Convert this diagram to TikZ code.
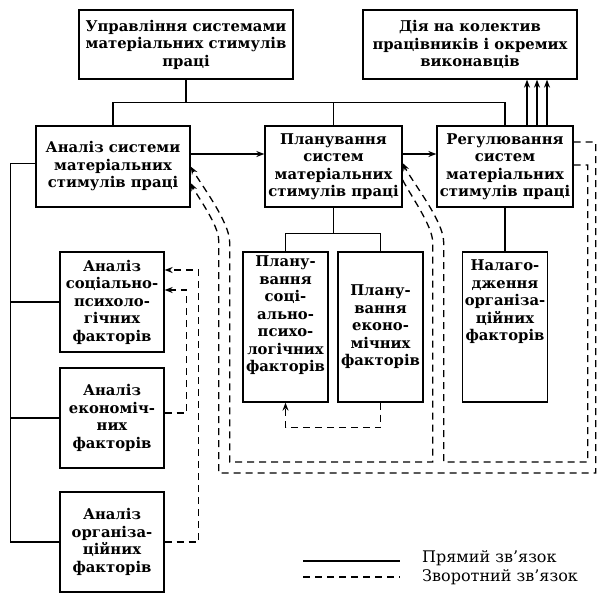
\documentclass[tikz,border=0pt]{standalone}
\usepackage{fontspec}
\setmainfont{DejaVu Serif}
\usepackage{tikz}
\usetikzlibrary{shapes.geometric, arrows, arrows.meta}
\tikzstyle{process} = [rectangle, draw=black, line width=1.3pt, text centered, align=center, inner sep=2pt, font=\bfseries\fontsize{14.8}{17.5}\selectfont]
\tikzstyle{wide} = [process, minimum width=214pt, minimum height=69pt]
\tikzstyle{stage} = [process, minimum height=81pt]
\tikzstyle{factor} = [process, minimum width=104pt, minimum height=100pt]
\tikzstyle{column} = [process, minimum width=85pt, minimum height=150pt]
\tikzstyle{link} = [line width=1.3pt]
\tikzstyle{arrow} = [link,-{Stealth[length=8pt,width=6pt]}]
\tikzstyle{feedback} = [line width=1.3pt, dash pattern=on 7pt off 5pt]
\tikzstyle{fbarrow} = [feedback,-{Stealth[length=8pt,width=6pt]}]
\tikzstyle{legend} = [inner sep=0pt, font=\fontsize{16}{18}\selectfont]
\newcommand{\toptext}[1]{\parbox[c][142pt][t]{81pt}{\centering #1}}

\begin{document}
\begin{tikzpicture}[x=1pt, y=1pt, node distance=116pt]
        \useasboundingbox (0,0) rectangle (599,-608);
        \node (upr) [wide] at (186,-44.5) {Управління системами\\матеріальних стимулів\\праці};
        \node (dia) [wide, right of=upr, xshift=168pt] {Дія на колектив\\працівників і окремих\\виконавців};
        \node (anal) [stage, minimum width=154pt, below of=upr, xshift=-73pt, yshift=-6pt] {Аналіз системи\\матеріальних\\стимулів праці};
        \node (plan) [stage, minimum width=137pt, right of=anal, xshift=104.5pt] {Планування\\систем\\матеріальних\\стимулів праці};
        \node (reg) [stage, minimum width=136pt, right of=plan, xshift=55.5pt] {Регулювання\\систем\\матеріальних\\стимулів праці};
        \node (soc) [factor, below of=anal, xshift=-1pt, yshift=-19.5pt] {Аналіз\\соціально-\\психоло-\\гічних\\факторів};
        \node (econ) [factor, below of=soc] {Аналіз\\економіч-\\них\\факторів};
        \node (org) [factor, below of=econ, yshift=-8pt] {Аналіз\\організа-\\ційних\\факторів};
        \node (psoc) [column, below of=plan, xshift=-48pt, yshift=-44.5pt] {\toptext{Плану-\\вання\\соці-\\ально-\\психо-\\логічних\\факторів}};
        \node (pecon) [column, right of=psoc, xshift=-21pt] {Плану-\\вання\\еконо-\\мічних\\факторів};
        \node (nalag) [column, below of=reg, yshift=-44.5pt] {\toptext{\vspace*{4pt}Налаго-\\дження\\організа-\\ційних\\факторів}};

        % direct links
        \draw [link] (upr.south) -- ++(0,-23) coordinate (hub);
        \draw [link] (anal.north) |- (hub) -| (reg.north);
        \draw [link] (plan.north) -- (plan.north |- hub);
        \foreach \dx in {22,32,42}
            \draw [arrow] ([xshift=\dx pt]reg.north) -- ([xshift=\dx pt]reg.north |- dia.south);
        \draw [arrow] ([yshift=12.5pt]anal.east) -- ([yshift=12.5pt]anal.east -| plan.west);
        \draw [arrow] ([yshift=12.5pt]plan.east) -- ([yshift=12.5pt]plan.east -| reg.west);
        \draw [link] ([yshift=3pt]anal.west) -- ++(-25,0) coordinate (spine) |- (org.west);
        \draw [link] (soc.west) -- (soc.west -| spine);
        \draw [link] (econ.west) -- (econ.west -| spine);
        \draw [link] (plan.south) -- ++(0,-26) coordinate (psplit);
        \draw [link] (psoc.north) |- (psplit) -| (pecon.north);
        \draw [link] (reg.south) -- (nalag.north);

        % feedback links
        \draw [fbarrow] (pecon.south) -- ++(0,-25) -| (psoc.south);
        \draw [fbarrow] ([yshift=5pt]econ.east) -- ++(22,0) |- ([yshift=12pt]soc.east);
        \draw [fbarrow] (org.east) -- ++(34,0) |- ([yshift=32pt]soc.east);
        \draw [fbarrow] ([yshift=24.5pt]reg.east) -- ++(22,0) -- ++(0,-331) -- ++(-377,0) -- ++(0,233) to[out=90,in=-63,looseness=0.6] ([yshift=-16.5pt]anal.east);
        \draw [fbarrow] ([yshift=-13.5pt]plan.east) to[out=-63,in=90,looseness=0.6] ++(30,-62) -- ++(0,-220) -- ++(-203,0) -- ++(0,220) to[out=90,in=-60,looseness=0.6] (anal.east);
        \draw [fbarrow] ([yshift=1.5pt]reg.east) -- ++(14,0) -- ++(0,-297) -- ++(-144,0) -- ++(0,220) to[out=90,in=-63,looseness=0.6] ([yshift=3.5pt]plan.east);

        % legend
        \node (direct) [legend, anchor=west] at (422,-558) {Прямий зв’язок};
        \node (reverse) [legend, anchor=west] at (422,-577) {Зворотний зв’язок};
        \draw [link] ([xshift=-119pt, yshift=-3pt]direct.west) -- ([xshift=-22pt, yshift=-3pt]direct.west);
        \draw [feedback] ([xshift=-119pt]reverse.west) -- ([xshift=-22pt]reverse.west);
    \end{tikzpicture}
\end{document}
